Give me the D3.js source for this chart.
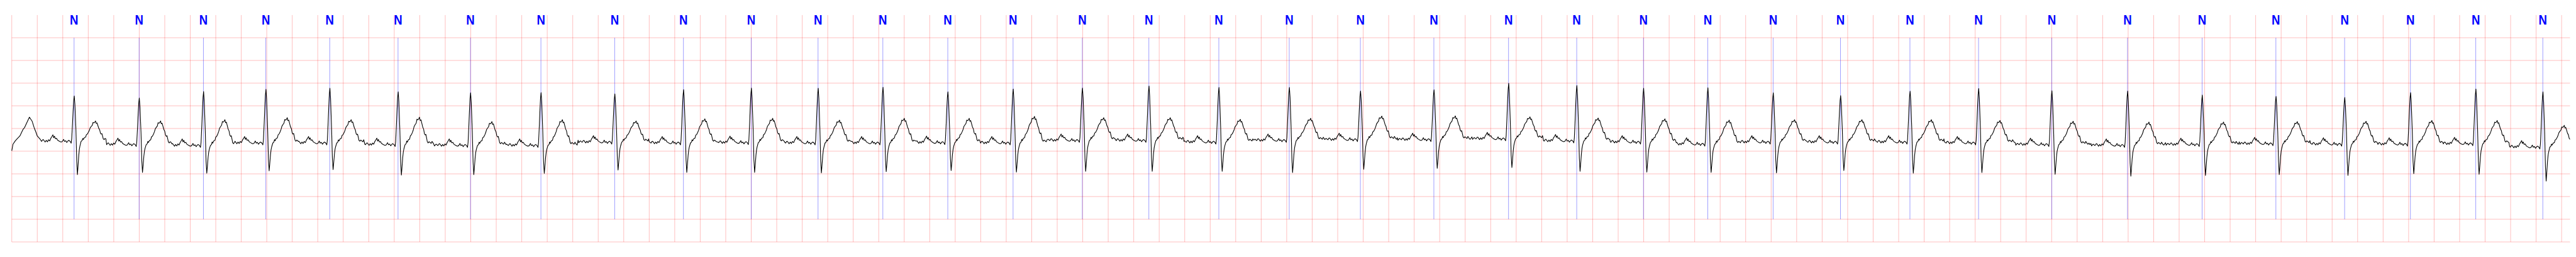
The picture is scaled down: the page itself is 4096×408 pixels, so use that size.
<!DOCTYPE html>
<html><head><meta charset="utf-8">
<script src="https://cdn.jsdelivr.net/npm/d3@7"></script>
<style>html,body{margin:0;padding:0;background:#fff;overflow:hidden}svg{display:block}</style>
</head><body>
<svg id="chart" width="4096" height="408"></svg>
<script>
// ---- data (time in s, amplitude in mV) ----
const beatTimes = [0.4887, 0.9991, 1.5033, 1.9925, 2.4940, 3.0297, 3.5977, 4.1505, 4.7291, 5.2682,
  5.8003, 6.3241, 6.8324, 7.3417, 7.8537, 8.3969, 8.9188, 9.4676, 10.0199, 10.5780,
  11.1544, 11.7400, 12.2748, 12.7984, 13.3026, 13.8154, 14.3437, 14.8885, 15.4266, 16.0008,
  16.5949, 17.1802, 17.7588, 18.2979, 18.8139, 19.3264, 19.8524];
const beatLabels = ["N","N","N","N","N","N","N","N","N","N","N","N","N","N","N","N","N","N","N",
  "N","N","N","N","N","N","N","N","N","N","N","N","N","N","N","N","N","N"];
const beatBase = [-0.274,-0.347,-0.365,-0.311,-0.311,-0.347,-0.365,-0.365,-0.293,-0.311,
  -0.303,-0.311,-0.311,-0.303,-0.311,-0.256,-0.256,-0.293,-0.256,-0.238,
  -0.238,-0.220,-0.267,-0.293,-0.339,-0.293,-0.293,-0.293,-0.311,-0.347,
  -0.365,-0.347,-0.329,-0.339,-0.339,-0.329,-0.401];
const beatR = [0.719,0.672,0.816,0.863,0.888,0.809,0.787,0.791,0.762,0.856,
  0.892,0.888,0.910,0.809,0.870,0.892,0.935,0.906,0.906,0.827,
  0.852,0.997,0.946,0.888,0.899,0.787,0.726,0.823,0.881,0.834,
  0.827,0.737,0.708,0.683,0.791,0.870,0.809];
const beatS = [-1.015,-0.968,-0.986,-0.932,-0.906,-1.026,-1.015,-0.990,-0.917,-0.968,
  -0.968,-0.979,-0.950,-0.925,-0.961,-0.943,-0.943,-0.943,-0.971,-0.899,
  -0.878,-0.860,-0.943,-0.961,-0.968,-0.979,-0.925,-0.986,-0.971,-1.008,
  -1.051,-1.033,-1.015,-1.033,-0.997,-1.008,-1.159];
const beatT = [0.166,0.166,0.195,0.238,0.195,0.249,0.152,0.195,0.166,0.213,
  0.224,0.184,0.224,0.224,0.267,0.238,0.238,0.202,0.224,0.274,
  0.278,0.256,0.231,0.213,0.184,0.195,0.195,0.195,0.177,0.159,
  0.141,0.141,0.152,0.159,0.177,0.177,0.069];

// one beat (offset from annotation in ms, mV above baseline)
const templateMs = [-314.0,-303.2,-295.2,-287.1,-281.8,-273.7,-268.4,-260.3,-254.9,-246.9,
  -241.5,-233.5,-227.0,-218.2,-209.0,-200.2,-191.3,-182.2,-175.2,-166.1,
  -159.9,-153.8,-146.5,-137.7,-130.4,-119.7,-110.8,-101.7,-92.8,-82.1,
  -74.9,-66.0,-57.2,-48.0,-41.1,-30.3,-23.1,
  -18.5,-12.3,-7.8,-3.2,1.3,6.4,14.5,
  20.7,26.3,30.9,36.8,41.6,45.9,
  54.7,63.6,
  68.2,72.7,81.6,90.4,96.9,103.9,113.0,120.0,126.4,135.3,
  142.5,148.7,155.9,162.1,168.3,173.6,180.1,186.2,193.5,200.5,
  206.9,213.1,218.4,224.6,229.2,
  236.1,242.6,249.6,256.0,260.3,266.7,272.4,278.3,284.5,291.7,297.9,305.9,314.0];
const templateMv = [0.02,0.0,0.01,0.035,-0.02,0.01,0.02,0.0,-0.01,0.025,
  0.03,0.0,-0.025,0.013,-0.020,0.026,0.0,0.06,0.09,0.135,
  0.07,0.105,0.05,0.06,0.02,0.0,-0.015,-0.025,-0.015,0.035,
  -0.012,0.005,-0.035,0.0,0.013,-0.012,-0.05,
  0.05,0.38,0.65,0.88,0.99,0.805,0.252,
  -0.378,-0.652,-0.50,-0.28,-0.16,-0.10,
  -0.012,0.013,
  0.063,0.038,0.088,0.096,0.164,0.177,0.227,0.277,0.340,0.378,
  0.403,0.479,0.466,0.483,0.516,0.453,0.466,0.403,0.328,0.290,
  0.202,0.177,0.189,0.113,0.051,
  0.03,0.056,0.045,0.026,0.02,0.063,0.04,0.013,0.0,0.026,0.03,0.005,0.02];
const templatePart = ("b".repeat(37) + "r".repeat(7) + "s".repeat(6) + "b".repeat(2) +
  "t".repeat(25) + "b".repeat(13)).split("");

// tail of the preceding beat at the start of the strip
const leadInS = [0, 0.0094, 0.0274, 0.0419, 0.0633, 0.0875, 0.1009, 0.117, 0.1385, 0.149, 0.160, 0.176, 0.189, 0.2002, 0.2243];
const leadInMv = [-0.491, -0.347, -0.272, -0.227, -0.166, -0.023, 0.023, 0.121, 0.249, 0.204, 0.159, 0.015, -0.076, -0.166, -0.242];

const tStart = 0, tEnd = 20.066;

// ---- drawing ----
const S = 0.544;
const svg = d3.select("#chart");
svg.append("rect").attr("width", 4096).attr("height", 408).attr("fill", "#fff");

const x = d3.scaleLinear().domain([tStart, tEnd]).range([34.4 * S, 7512 * S]);
const y = d3.scaleLinear().domain([-2.5, 2.5]).range([706 * S, 44 * S]);

const grid = svg.append("g").attr("stroke", "#ff0000").attr("stroke-opacity", 0.27).attr("stroke-width", 0.95);
grid.selectAll("line.v").data(d3.range(0, 20.0001, 0.2)).join("line").attr("class", "v")
  .attr("x1", d => x(d)).attr("x2", d => x(d)).attr("y1", y(2.5)).attr("y2", y(-2.5));
grid.selectAll("line.h").data(d3.range(-2.5, 2.0001, 0.5)).join("line").attr("class", "h")
  .attr("x1", x(tStart)).attr("x2", x(tEnd)).attr("y1", d => y(d)).attr("y2", d => y(d));

// annotation markers
svg.append("g").selectAll("line").data(beatTimes).join("line")
  .attr("x1", d => x(d)).attr("x2", d => x(d)).attr("y1", y(2.0)).attr("y2", y(-2.0))
  .attr("stroke", "#0000ff").attr("stroke-opacity", 0.55).attr("stroke-width", 0.7);

// trace
const tplR = d3.max(templateMv.filter((v, i) => templatePart[i] === "r"));
const tplS = d3.min(templateMv.filter((v, i) => templatePart[i] === "s"));
const tplT = d3.max(templateMv.filter((v, i) => templatePart[i] === "t"));
const trace = leadInS.map((t, i) => ({ t: t, v: leadInMv[i] }));
beatTimes.forEach((bt, i) => {
  const lo = i === 0 ? -(beatTimes[1] - bt) / 2 : -(bt - beatTimes[i - 1]) / 2;
  const hi = i === beatTimes.length - 1 ? tEnd - bt : (beatTimes[i + 1] - bt) / 2;
  const k = { b: 1, r: (beatR[i] - beatBase[i]) / tplR, s: (beatS[i] - beatBase[i]) / tplS, t: (beatT[i] - beatBase[i]) / tplT };
  templateMs.forEach((ms, j) => {
    const dt = ms / 1000;
    if (dt >= lo && dt < hi) trace.push({ t: bt + dt, v: beatBase[i] + templateMv[j] * k[templatePart[j]] });
  });
});
svg.append("path").datum(trace)
  .attr("fill", "none").attr("stroke", "#000").attr("stroke-width", 1.1).attr("stroke-linejoin", "round")
  .attr("d", d3.line().x(d => x(d.t)).y(d => y(d.v)));

// labels
svg.append("g").selectAll("text").data(beatTimes).join("text")
  .attr("transform", d => `translate(${x(d)},${y(2.29)}) scale(0.85,1)`)
  .attr("text-anchor", "middle")
  .attr("font-family", "'Liberation Sans', Arial, sans-serif").attr("font-weight", "bold")
  .attr("font-size", 21.9).attr("fill", "#0000ff")
  .text((d, i) => beatLabels[i]);
</script>
</body></html>
